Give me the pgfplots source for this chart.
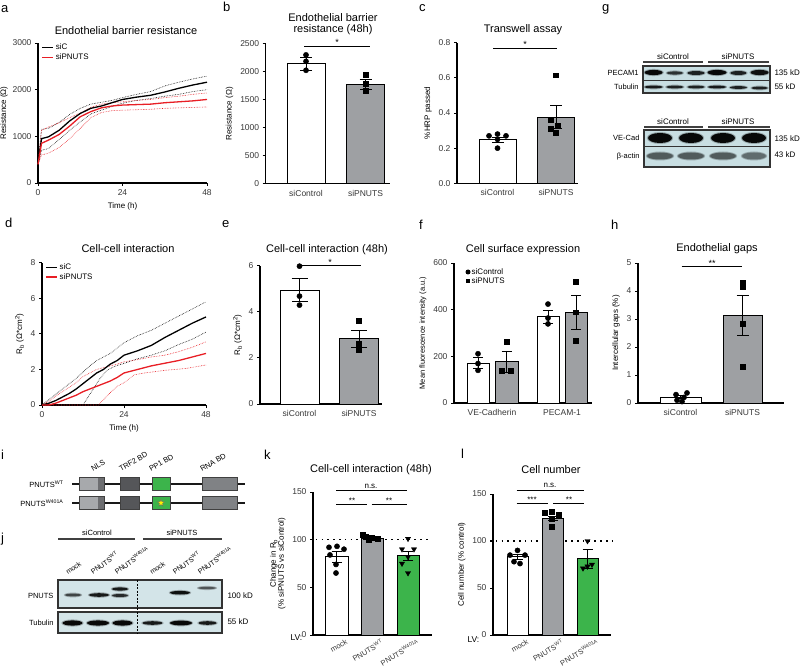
\documentclass[border=0pt]{standalone}
\usepackage{pgfplots}
\pgfplotsset{compat=1.18}
\usepackage{fontspec}
\setmainfont{Liberation Sans}
\usetikzlibrary{shapes.geometric}
\definecolor{myred}{RGB}{232,30,37}
\definecolor{mygray}{RGB}{158,160,163}
\definecolor{mygreen}{RGB}{60,180,75}
\definecolor{blot}{RGB}{200,222,226}
\definecolor{tickc}{RGB}{55,55,55}
\definecolor{lgray}{RGB}{167,169,172}
\definecolor{mgray}{RGB}{109,110,113}
\definecolor{dgray}{RGB}{85,86,89}
\definecolor{rgray}{RGB}{128,130,133}
\newcommand{\fs}[1]{\fontsize{#1}{#1}\selectfont}
\newcommand{\band}[5]{%
  \fill[black, opacity=0.25] (#1,#2) ellipse [x radius=#3+1.2, y radius=#4+1];
  \fill[black, opacity=#5] (#1,#2) ellipse [x radius=#3, y radius=#4];}
\pgfplotsset{
  base/.style={scale only axis, enlargelimits=false, clip=false, anchor=south west,
    axis lines*=left, axis line style={line width=1.1pt},
    tick align=outside, major tick length=3pt,
    every tick/.style={black, line width=0.9pt},
    tick label style={font=\fs{8.5}, text=tickc},
    label style={font=\fs{8}},
    /pgf/number format/assume math mode=true,
    /pgf/number format/1000 sep={},
    scaled ticks=false},
  barax/.style={base, xtick style={draw=none}},
  bw/.style 2 args={ybar, bar shift=0pt, bar width=#2, draw=black, line width=1pt, fill=#1,
    error bars/.cd, y dir=both, y explicit,
    error bar style={line width=0.9pt, black},
    error mark options={rotate=90, mark size=6pt, line width=0.9pt, black},
    /pgfplots/.cd},
  cap/.style={/pgfplots/error bars/error mark options={rotate=90, mark size=#1, line width=0.9pt, black}},
  circ/.style={only marks, mark=*, mark size=2.6pt, black},
  sq/.style={only marks, mark=square*, mark size=2.4pt, black},
  tri/.style={only marks, mark=triangle*, mark size=3pt, black, mark options={rotate=180}},
  lineleg/.style={legend style={draw=none, fill=none, at={(0.02,1.01)}, anchor=north west,
    font=\fs{8}, inner sep=0pt, row sep=-1.5pt, cells={anchor=west}},
    legend image code/.code={\draw[##1] (0pt,0pt) -- (11pt,0pt);}},
  rotlab/.style={xticklabel style={font=\fs{7.5}, yshift=4pt, rotate=30, anchor=north east}},
}
\begin{document}
\begin{tikzpicture}[x=1pt, y=-1pt]
\path[use as bounding box] (0,0) rectangle (800,668);
\coordinate (pa) at (38,183);
\coordinate (pb) at (265.7,183.7);
\coordinate (pc) at (457,183.3);
\coordinate (pd) at (42,405);
\coordinate (pe) at (260,404);
\coordinate (pf) at (454,403);
\coordinate (ph) at (638,403);
\coordinate (pk) at (313,635);
\coordinate (pl) at (493,635);
% ---- panel letters
\foreach \l/\xx/\yy in {a/1/13, b/223/12, c/419/12, g/602/12, d/5/228, e/222/228, f/419/230, h/611/230, i/1/459, j/1/542, k/264/459, l/461/458}
  \node[font=\fs{13}, anchor=base west, inner sep=0pt] at (\xx,\yy) {\l};
% ---- titles
\node[font=\fs{11}] at (126,31) {Endothelial barrier resistance};
\node[font=\fs{11}, align=center] at (333,24) {Endothelial barrier\\resistance (48h)};
\node[font=\fs{11}] at (523,30) {Transwell assay};
\node[font=\fs{11}] at (128,249) {Cell-cell interaction};
\node[font=\fs{11}] at (327,250) {Cell-cell interaction (48h)};
\node[font=\fs{11}] at (523,250) {Cell surface expression};
\node[font=\fs{11}] at (717,249) {Endothelial gaps};
\node[font=\fs{11}] at (371,470) {Cell-cell interaction (48h)};
\node[font=\fs{11}] at (551,470) {Cell number};

% ================= panel a
\begin{axis}[base, lineleg, at={(pa)}, width=169pt, height=140pt,
  xmin=0, xmax=48, ymin=0, ymax=3000, xtick={0,24,48}, ytick={0,1000,2000,3000},
  xlabel={Time (h)}, ylabel={Resistance (Ω)}, ylabel style={yshift=-2pt},
  legend entries={siC,siPNUTS}]
\addlegendimage{black, line width=1.2pt}
\addlegendimage{myred, line width=1.2pt}
\addplot[black, densely dotted, line width=0.6pt, forget plot] coordinates {(0,400)(1,1150)(3,1170)(6,1300)(9,1470)(12,1600)(15,1690)(18,1730)(21,1770)(24,1830)(28,1900)(32,1960)(36,2080)(40,2160)(44,2230)(48,2290)};
\addplot[black, densely dotted, line width=0.6pt, forget plot] coordinates {(0,400)(1,700)(3,740)(6,930)(9,1130)(12,1310)(15,1480)(18,1560)(21,1640)(24,1710)(28,1770)(32,1810)(36,1860)(40,1900)(44,1960)(48,2000)};
\addplot[myred, densely dotted, line width=0.6pt, forget plot] coordinates {(0,400)(1,1130)(3,1200)(6,1290)(9,1400)(12,1500)(15,1620)(18,1690)(21,1720)(24,1740)(28,1770)(32,1790)(36,1830)(40,1860)(44,1900)(48,1930)};
\addplot[myred, densely dotted, line width=0.6pt, forget plot] coordinates {(0,400)(1,600)(3,640)(6,760)(9,950)(12,1170)(15,1400)(18,1510)(21,1550)(24,1560)(28,1570)(32,1580)(36,1600)(40,1610)(44,1620)(48,1630)};
\addplot[black, line width=1.3pt, forget plot] coordinates {(0,400)(1,950)(3,990)(6,1130)(9,1330)(12,1490)(15,1600)(18,1650)(21,1720)(24,1790)(28,1840)(32,1880)(36,1950)(40,2030)(44,2100)(48,2160)};
\addplot[myred, line width=1.3pt, forget plot] coordinates {(0,400)(1,850)(3,920)(6,1040)(9,1220)(12,1420)(15,1530)(18,1610)(21,1650)(24,1670)(28,1680)(32,1690)(36,1720)(40,1740)(44,1760)(48,1790)};
\end{axis}

% ================= panel b
\begin{axis}[barax, at={(pb)}, width=124.3pt, height=140pt,
  xmin=265.7, xmax=390, ymin=0, ymax=2500, ytick={0,500,...,2500},
  xtick={306,365.5}, xticklabels={siControl,siPNUTS}, ylabel={Resistance (Ω)}]
\addplot[bw={white}{38}] coordinates {(306,2140) +- (0,115)};
\addplot[bw={mygray}{38}] coordinates {(365.5,1770) +- (0,95)};
\addplot[circ] coordinates {(306,2300)(306,2185)(306,2025)};
\addplot[sq] coordinates {(365.5,1950)(365.5,1790)(365.5,1660)};
\draw[line width=0.9pt] (axis cs:304.3,2452) -- (axis cs:370,2452);
\node[font=\fs{9}, anchor=base, inner sep=0pt] at (axis cs:337,2460) {*};
\end{axis}

% ================= panel c
\begin{axis}[barax, at={(pc)}, width=121pt, height=140.6pt,
  xmin=457, xmax=578, ymin=0, ymax=0.8, ytick={0,0.2,...,0.8},
  yticklabel style={/pgf/number format/.cd, fixed, fixed zerofill, precision=1},
  xtick={497.5,556}, xticklabels={siControl,siPNUTS}, ylabel={\%HRP passed}]
\addplot[bw={white}{37}, cap=6pt] coordinates {(497.5,0.248) +- (0,0.015)};
\addplot[bw={mygray}{37}, cap=6pt] coordinates {(556,0.377) +- (0,0.065)};
\addplot[circ] coordinates {(489,0.27)(497.5,0.28)(506,0.27)(497.5,0.2)(497.5,0.25)};
\addplot[sq] coordinates {(556,0.615)(551,0.36)(558,0.33)(551,0.31)(556,0.29)};
\draw[line width=0.9pt] (axis cs:493.3,0.768) -- (axis cs:556.7,0.768);
\node[font=\fs{9}, anchor=base, inner sep=0pt] at (axis cs:525,0.773) {*};
\end{axis}

% ================= panel d
\begin{axis}[base, lineleg, at={(pd)}, width=164pt, height=142.3pt,
  xmin=0, xmax=48, ymin=0, ymax=8, xtick={0,24,48}, ytick={0,2,4,6,8},
  xlabel={Time (h)}, ylabel={R\textsubscript{b} (Ω*cm\textsuperscript{2})},
  legend entries={siC,siPNUTS}]
\addlegendimage{black, line width=1.2pt}
\addlegendimage{myred, line width=1.2pt}
\addplot[black, densely dotted, line width=0.6pt, forget plot] coordinates {(0,0)(2,0.3)(4,0.6)(6,0.9)(8,1.2)(10,1.5)(12,1.85)(14,2.2)(16,2.5)(18,2.7)(20,2.9)(22,3.2)(24,3.5)(28,3.9)(32,4.2)(36,4.6)(40,5.0)(44,5.4)(48,5.8)};
\addplot[black, densely dotted, line width=0.6pt, forget plot] coordinates {(0,0)(12,0)(13,0.3)(15,0.9)(17,1.5)(19,1.95)(21,2.15)(24,2.34)(28,2.6)(32,2.8)(36,3.05)(40,3.4)(44,3.7)(48,4.1)};
\addplot[myred, densely dotted, line width=0.6pt, forget plot] coordinates {(0,0)(2,0.2)(4,0.5)(6,0.75)(8,1.0)(10,1.25)(12,1.6)(14,1.8)(16,2.0)(18,2.1)(20,2.2)(22,2.3)(24,2.43)(28,2.55)(32,2.7)(36,2.8)(40,3.0)(44,3.25)(48,3.55)};
\addplot[myred, densely dotted, line width=0.6pt, forget plot] coordinates {(0,0)(16.5,0)(18,0.3)(20,0.7)(22,1.05)(24,1.25)(27,1.7)(30,1.8)(36,1.95)(42,2.05)(48,2.25)};
\addplot[black, line width=1.3pt, forget plot] coordinates {(0,0)(2,0.1)(4,0.25)(6,0.45)(8,0.65)(10,0.9)(12,1.2)(14,1.5)(16,1.8)(18,2.0)(20,2.3)(22,2.5)(24,2.8)(28,3.05)(32,3.35)(36,3.8)(40,4.2)(44,4.6)(48,4.95)};
\addplot[myred, line width=1.3pt, forget plot] coordinates {(0,0)(2,0)(4,0.1)(6,0.25)(8,0.4)(10,0.55)(12,0.75)(14,0.9)(16,1.05)(18,1.2)(20,1.35)(22,1.55)(24,1.8)(28,2.0)(32,2.2)(36,2.35)(40,2.5)(44,2.7)(48,2.9)};
\end{axis}

% ================= panel e
\begin{axis}[barax, at={(pe)}, width=122pt, height=138.3pt,
  xmin=260, xmax=382, ymin=0, ymax=6, ytick={0,2,4,6},
  xtick={299.5,359}, xticklabels={siControl,siPNUTS},
  ylabel={R\textsubscript{b} (Ω*cm\textsuperscript{2})}]
\addplot[bw={white}{39}, cap=8pt] coordinates {(299.5,4.94) +- (0,0.5)};
\addplot[bw={mygray}{39}, cap=8pt] coordinates {(359,2.83) +- (0,0.38)};
\addplot[circ] coordinates {(299.5,5.98)(299.5,4.68)(299.5,4.29)};
\addplot[sq] coordinates {(359,3.61)(359,2.6)(359,2.37)};
\draw[line width=0.9pt] (axis cs:300,6) -- (axis cs:361,6);
\node[font=\fs{9}, anchor=base, inner sep=0pt] at (axis cs:330,6.02) {*};
\end{axis}

% ================= panel f
\begin{axis}[barax, at={(pf)}, width=138pt, height=140pt,
  xmin=454, xmax=592, ymin=0, ymax=600, ytick={0,200,400,600},
  xtick={492,562}, xticklabels={VE-Cadherin,PECAM-1},
  ylabel={Mean fluorescence intensity (a.u.)}, ylabel style={font=\fs{7.5}}]
\addplot[bw={white}{22}, cap=5pt] coordinates {(478,171) +- (0,25)};
\addplot[bw={mygray}{23}, cap=5pt] coordinates {(506.5,178) +- (0,45)};
\addplot[bw={white}{22}, cap=5pt] coordinates {(548,369) +- (0,28)};
\addplot[bw={mygray}{22}, cap=5pt] coordinates {(576,389) +- (0,73)};
\addplot[circ] coordinates {(478,211)(478,169)(478,140)};
\addplot[sq] coordinates {(506.5,264)(502,137)(511,137)};
\addplot[circ] coordinates {(548,424)(548,364)(548,339)};
\addplot[sq] coordinates {(576,521)(576,389)(576,267)};
\end{axis}
\node[circle, fill=black, inner sep=0pt, minimum size=5pt] at (468,272) {};
\node[font=\fs{8}, anchor=west, inner sep=0pt] at (471.5,272) {siControl};
\node[fill=black, inner sep=0pt, minimum size=4.8pt] at (468,281) {};
\node[font=\fs{8}, anchor=west, inner sep=0pt] at (471.5,281) {siPNUTS};

% ================= panel h
\begin{axis}[barax, at={(ph)}, width=146pt, height=140pt,
  xmin=638, xmax=784, ymin=0, ymax=5, ytick={0,1,...,5},
  xtick={680.5,742.5}, xticklabels={siControl,siPNUTS},
  ylabel={Intercellular gaps (\%)}]
\addplot[bw={white}{41}, cap=5pt] coordinates {(680.5,0.21) +- (0,0.06)};
\addplot[bw={mygray}{39}, cap=6pt] coordinates {(742.5,3.13) +- (0,0.71)};
\addplot[circ] coordinates {(676,0.3)(677,0.1)(684,0.2)(687,0.36)(682,0.05)};
\addplot[sq] coordinates {(742.5,4.29)(742.5,4.14)(742.5,2.83)(742.5,1.31)};
\draw[line width=0.9pt] (axis cs:681.7,4.86) -- (axis cs:741.7,4.86);
\node[font=\fs{9}, anchor=base, inner sep=0pt] at (axis cs:712,4.88) {**};
\end{axis}

% ================= panel k
\begin{axis}[barax, rotlab, at={(pk)}, width=119pt, height=143pt,
  xmin=313, xmax=432, ymin=0, ymax=150, ytick={0,50,100,150},
  xtick={346.5,382,418},
  xticklabels={mock,PNUTS\textsuperscript{WT},PNUTS\textsuperscript{W401A}},
  ylabel={Change in R\textsubscript{b}\\(\% siPNUTS vs siControl)}, ylabel style={align=center}]
\draw[line width=1.6pt, dash pattern=on 1.6pt off 4.2pt] (axis cs:310,100) -- (axis cs:431,100);
\addplot[bw={white}{23}, cap=5pt] coordinates {(336.5,82) +- (0,6)};
\addplot[bw={mygray}{22}, cap=5pt] coordinates {(372,101) +- (0,1.5)};
\addplot[bw={mygreen}{22}, cap=5pt] coordinates {(408,83) +- (0,5)};
\addplot[circ] coordinates {(329,92)(337,93)(344,90)(330,84)(336,74)(336,65)};
\addplot[sq] coordinates {(363,105)(366,103)(372,102)(378,101)(369,100)};
\addplot[tri] coordinates {(408,101)(402,90)(414,90)(408,82)(402,75)(408,65)};
\draw[line width=0.9pt] (axis cs:336,151.7) -- (axis cs:406.7,151.7);
\draw[line width=0.9pt] (axis cs:336,136.6) -- (axis cs:367.3,136.6);
\draw[line width=0.9pt] (axis cs:371.7,136.6) -- (axis cs:406.7,136.6);
\node[font=\fs{8}, anchor=base, inner sep=0pt] at (axis cs:371,154) {n.s.};
\node[font=\fs{8}, anchor=base, inner sep=0pt] at (axis cs:352,137.5) {**};
\node[font=\fs{8}, anchor=base, inner sep=0pt] at (axis cs:389,137.5) {**};
\end{axis}
\node[font=\fs{8.5}, anchor=west] at (287,638) {LV:};

% ================= panel l
\begin{axis}[barax, rotlab, at={(pl)}, width=118pt, height=141pt,
  xmin=493, xmax=611, ymin=0, ymax=150, ytick={0,50,100,150},
  xtick={527.5,562.5,597.5},
  xticklabels={mock,PNUTS\textsuperscript{WT},PNUTS\textsuperscript{W401A}},
  ylabel={Cell number (\% control)}]
\draw[line width=1.6pt, dash pattern=on 1.6pt off 4.2pt] (axis cs:490,100) -- (axis cs:612,100);
\addplot[bw={white}{21}, cap=5pt] coordinates {(517.5,83) +- (0,3)};
\addplot[bw={mygray}{21}, cap=5pt] coordinates {(552.5,124) +- (0,2)};
\addplot[bw={mygreen}{21}, cap=5pt] coordinates {(587.5,81) +- (0,10)};
\addplot[circ] coordinates {(517.5,90)(510,85)(525,85)(514,78)(520,76)};
\addplot[sq] coordinates {(545,130)(552,131)(559,128)(552,124)(552,115)};
\addplot[tri] coordinates {(587.5,100)(583,71)(592,75)(587.5,73)};
\draw[line width=0.9pt] (axis cs:516.7,154) -- (axis cs:584.3,154);
\draw[line width=0.9pt] (axis cs:516.7,140) -- (axis cs:548.3,140);
\draw[line width=0.9pt] (axis cs:553.3,140) -- (axis cs:584.3,140);
\node[font=\fs{8}, anchor=base, inner sep=0pt] at (axis cs:550,156.5) {n.s.};
\node[font=\fs{8}, anchor=base, inner sep=0pt] at (axis cs:532,141) {***};
\node[font=\fs{8}, anchor=base, inner sep=0pt] at (axis cs:569,141) {**};
\end{axis}
\node[font=\fs{8.5}, anchor=west] at (464,640) {LV:};

% ================= panel g (blots)
\begin{scope}[font=\fs{8}]
\node at (673,57) {siControl};
\node at (738,57) {siPNUTS};
\draw[line width=1.1pt, black!75] (643,62) -- (703,62);
\draw[line width=1.1pt, black!75] (708,62) -- (769,62);
\fill[blot] (643,66) rectangle (770,93);
\band{653.6}{72.5}{9}{2.6}{0.95}
\band{674.8}{73}{8}{1.6}{0.7}
\band{696}{73}{8.5}{2}{0.8}
\band{717}{72.5}{9.5}{2.6}{0.95}
\band{738.4}{73}{8}{2}{0.8}
\band{759.6}{72.5}{9}{2.6}{0.9}
\band{653.6}{87}{9}{1.4}{0.85}
\band{674.8}{87}{8.5}{1.4}{0.8}
\band{696}{87}{8.5}{1.4}{0.8}
\band{717}{87}{9}{1.4}{0.85}
\band{738.4}{87.5}{8.5}{1.4}{0.8}
\band{759.6}{88}{8}{1.4}{0.8}
\draw[line width=1.2pt, black!80] (643,66) rectangle (770,80.5);
\draw[line width=1.2pt, black!80] (643,80.5) rectangle (770,93);
\node[anchor=east, font=\fs{7.5}] at (642,73) {PECAM1};
\node[anchor=east, font=\fs{7.5}] at (642,87) {Tubulin};
\node[anchor=west] at (771,73) {135 kD};
\node[anchor=west] at (771,87) {55 kD};
\node at (673,122) {siControl};
\node at (738,122) {siPNUTS};
\draw[line width=1.1pt, black!75] (644,127) -- (703,127);
\draw[line width=1.1pt, black!75] (708,127) -- (770,127);
\fill[blot] (644,130) rectangle (770,167);
\band{660}{138}{12}{5}{0.95}
\band{691}{138}{12}{5}{0.95}
\band{723}{138}{12}{5}{0.95}
\band{754}{138}{12}{5}{0.95}
\band{660}{156}{13}{3.5}{0.45}
\band{691}{156}{13}{3.5}{0.45}
\band{723}{156}{13}{3.5}{0.45}
\band{754}{156}{12}{3.5}{0.35}
\draw[line width=1.2pt, black!80] (644,130) rectangle (770,146.5);
\draw[line width=1.2pt, black!80] (644,146.5) rectangle (770,167);
\node[anchor=east, font=\fs{7.5}] at (643,138) {VE-Cad};
\node[anchor=east, font=\fs{7.5}] at (643,157) {β-actin};
\node[anchor=west] at (771,139) {135 kD};
\node[anchor=west] at (771,155) {43 kD};
\end{scope}

% ================= panel i (domains)
\newcommand{\pnutsrow}[1]{%
  \draw[line width=2.6pt, black!90] (72,#1) -- (245,#1);
  \filldraw[fill=lgray, draw=black!75, line width=0.8pt] (79,#1-6.5) rectangle (104,#1+6.5);
  \fill[mgray] (98,#1-6.1) rectangle (103.6,#1+6.1);
  \filldraw[fill=dgray, draw=black!75, line width=0.8pt] (120,#1-6.5) rectangle (139,#1+6.5);
  \filldraw[fill=mygreen, draw=black!75, line width=0.8pt] (152,#1-6.5) rectangle (170,#1+6.5);
  \filldraw[fill=rgray, draw=black!75, line width=0.8pt] (202,#1-6.5) rectangle (237,#1+6.5);}
\pnutsrow{484}
\pnutsrow{503}
\node[star, star points=5, star point ratio=2.3, fill=yellow, draw=black!60, line width=0.4pt, minimum size=7.5pt, inner sep=0pt] at (161,503) {};
\begin{scope}[font=\fs{7.5}]
\node[anchor=east] at (67,484) {PNUTS\textsuperscript{WT}};
\node[anchor=east] at (67,503) {PNUTS\textsuperscript{W401A}};
\node[rotate=30, anchor=south west, inner sep=0pt] at (93,472) {NLS};
\node[rotate=30, anchor=south west, inner sep=0pt] at (121,472) {TRF2 BD};
\node[rotate=30, anchor=south west, inner sep=0pt] at (151,472) {PP1 BD};
\node[rotate=30, anchor=south west, inner sep=0pt] at (202,472) {RNA BD};
\end{scope}

% ================= panel j (blot)
\begin{scope}[font=\fs{7.5}]
\node at (97,533) {siControl};
\node at (182,533) {siPNUTS};
\draw[line width=1.1pt, black!75] (58,539) -- (135,539);
\draw[line width=1.1pt, black!75] (143,539) -- (222,539);
\foreach \xx/\lab in {68/mock, 93/PNUTS\textsuperscript{WT}, 117/PNUTS\textsuperscript{W401A}, 152/mock, 175/PNUTS\textsuperscript{WT}, 200/PNUTS\textsuperscript{W401A}}
  \node[rotate=35, anchor=south west, inner sep=0pt, font=\fs{7}] at (\xx,575) {\lab};
\fill[blot!80!white] (58,580) rectangle (222,608);
\fill[blot!80!white] (58,612) rectangle (222,633);
\band{73}{595}{8}{1.4}{0.6}
\band{99}{595}{10}{1.8}{0.85}
\band{120}{589}{8}{1.6}{0.85}
\band{120}{595.5}{8}{1.5}{0.75}
\band{180}{592.7}{10}{1.8}{0.9}
\band{207}{588}{9}{1.1}{0.5}
\band{72.5}{623}{10}{2.6}{0.95}
\band{98}{623}{11}{2.6}{0.95}
\band{122.5}{623}{10}{2.6}{0.95}
\band{152.5}{623}{10}{1.8}{0.85}
\band{181}{623}{11}{2.4}{0.95}
\band{207.5}{623}{9}{1.8}{0.85}
\draw[line width=1.2pt, black!80] (58,580) rectangle (222,608);
\draw[line width=1.2pt, black!80] (58,612) rectangle (222,633);
\draw[line width=0.9pt, dash pattern=on 2pt off 1.5pt] (137,580) -- (137,633);
\node[anchor=east] at (57,596) {PNUTS};
\node[anchor=east] at (57,623) {Tubulin};
\node[anchor=west, font=\fs{8}] at (224,596) {100 kD};
\node[anchor=west, font=\fs{8}] at (224,622) {55 kD};
\end{scope}
\end{tikzpicture}
\end{document}
